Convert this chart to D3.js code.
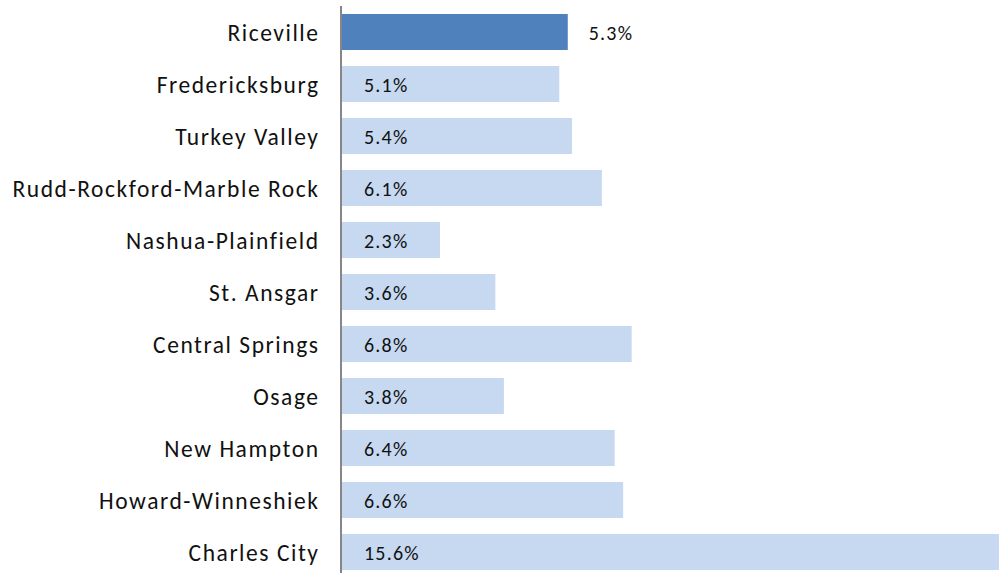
<!DOCTYPE html>
<html><head><meta charset="utf-8">
<script src="https://cdn.jsdelivr.net/npm/d3@7"></script>
<style>body{margin:0;background:#fff;overflow:hidden}</style>
</head><body>
<svg id="c" width="999" height="573"></svg>
<script>
const categories = ["Riceville","Fredericksburg","Turkey Valley","Rudd-Rockford-Marble Rock","Nashua-Plainfield","St. Ansgar","Central Springs","Osage","New Hampton","Howard-Winneshiek","Charles City"];
const values = [5.3,5.1,5.4,6.1,2.3,3.6,6.8,3.8,6.4,6.6,15.6];
const highlight = ["Riceville"];

const svg = d3.select("#c");
const x0 = 342;
const x = d3.scaleLinear().domain([0, 15.6]).range([x0, x0 + 15.6*42.6]);
const y = d3.scaleBand().domain(categories).range([6, 578]).paddingInner(16/52).paddingOuter(8/52);
const font = "Carlito, Calibri, Lato, sans-serif";
const catLS = 1.55, valLS = 1.2;

svg.selectAll("rect.bar").data(categories).join("rect")
  .attr("class","bar")
  .attr("x", x(0))
  .attr("y", d => y(d))
  .attr("width", (d,i) => x(values[i]) - x(0))
  .attr("height", y.bandwidth())
  .attr("fill", d => highlight.includes(d) ? "#4f81bd" : "#c6d9f1");

svg.append("line").attr("x1", 341).attr("x2", 341).attr("y1", 6).attr("y2", 573)
  .attr("stroke", "#868686").attr("stroke-width", 2);

svg.selectAll("text.cat").data(categories).join("text")
  .attr("class","cat")
  .attr("x", 318 + catLS)
  .attr("y", d => y(d) + y.bandwidth()/2)
  .attr("dy", "0.40em")
  .attr("text-anchor","end")
  .attr("font-family", font).attr("font-size", 23.5).attr("letter-spacing", catLS).attr("fill", "#111")
  .text(d => d);

svg.selectAll("text.val").data(categories).join("text")
  .attr("class","val")
  .attr("x", (d,i) => highlight.includes(d) ? x(values[i]) + 21 : 364)
  .attr("y", d => y(d) + y.bandwidth()/2)
  .attr("dy", "0.40em")
  .attr("font-family", font).attr("font-size", 20).attr("letter-spacing", valLS).attr("fill", "#111")
  .text((d,i) => values[i].toFixed(1) + "%");
</script>
</body></html>
